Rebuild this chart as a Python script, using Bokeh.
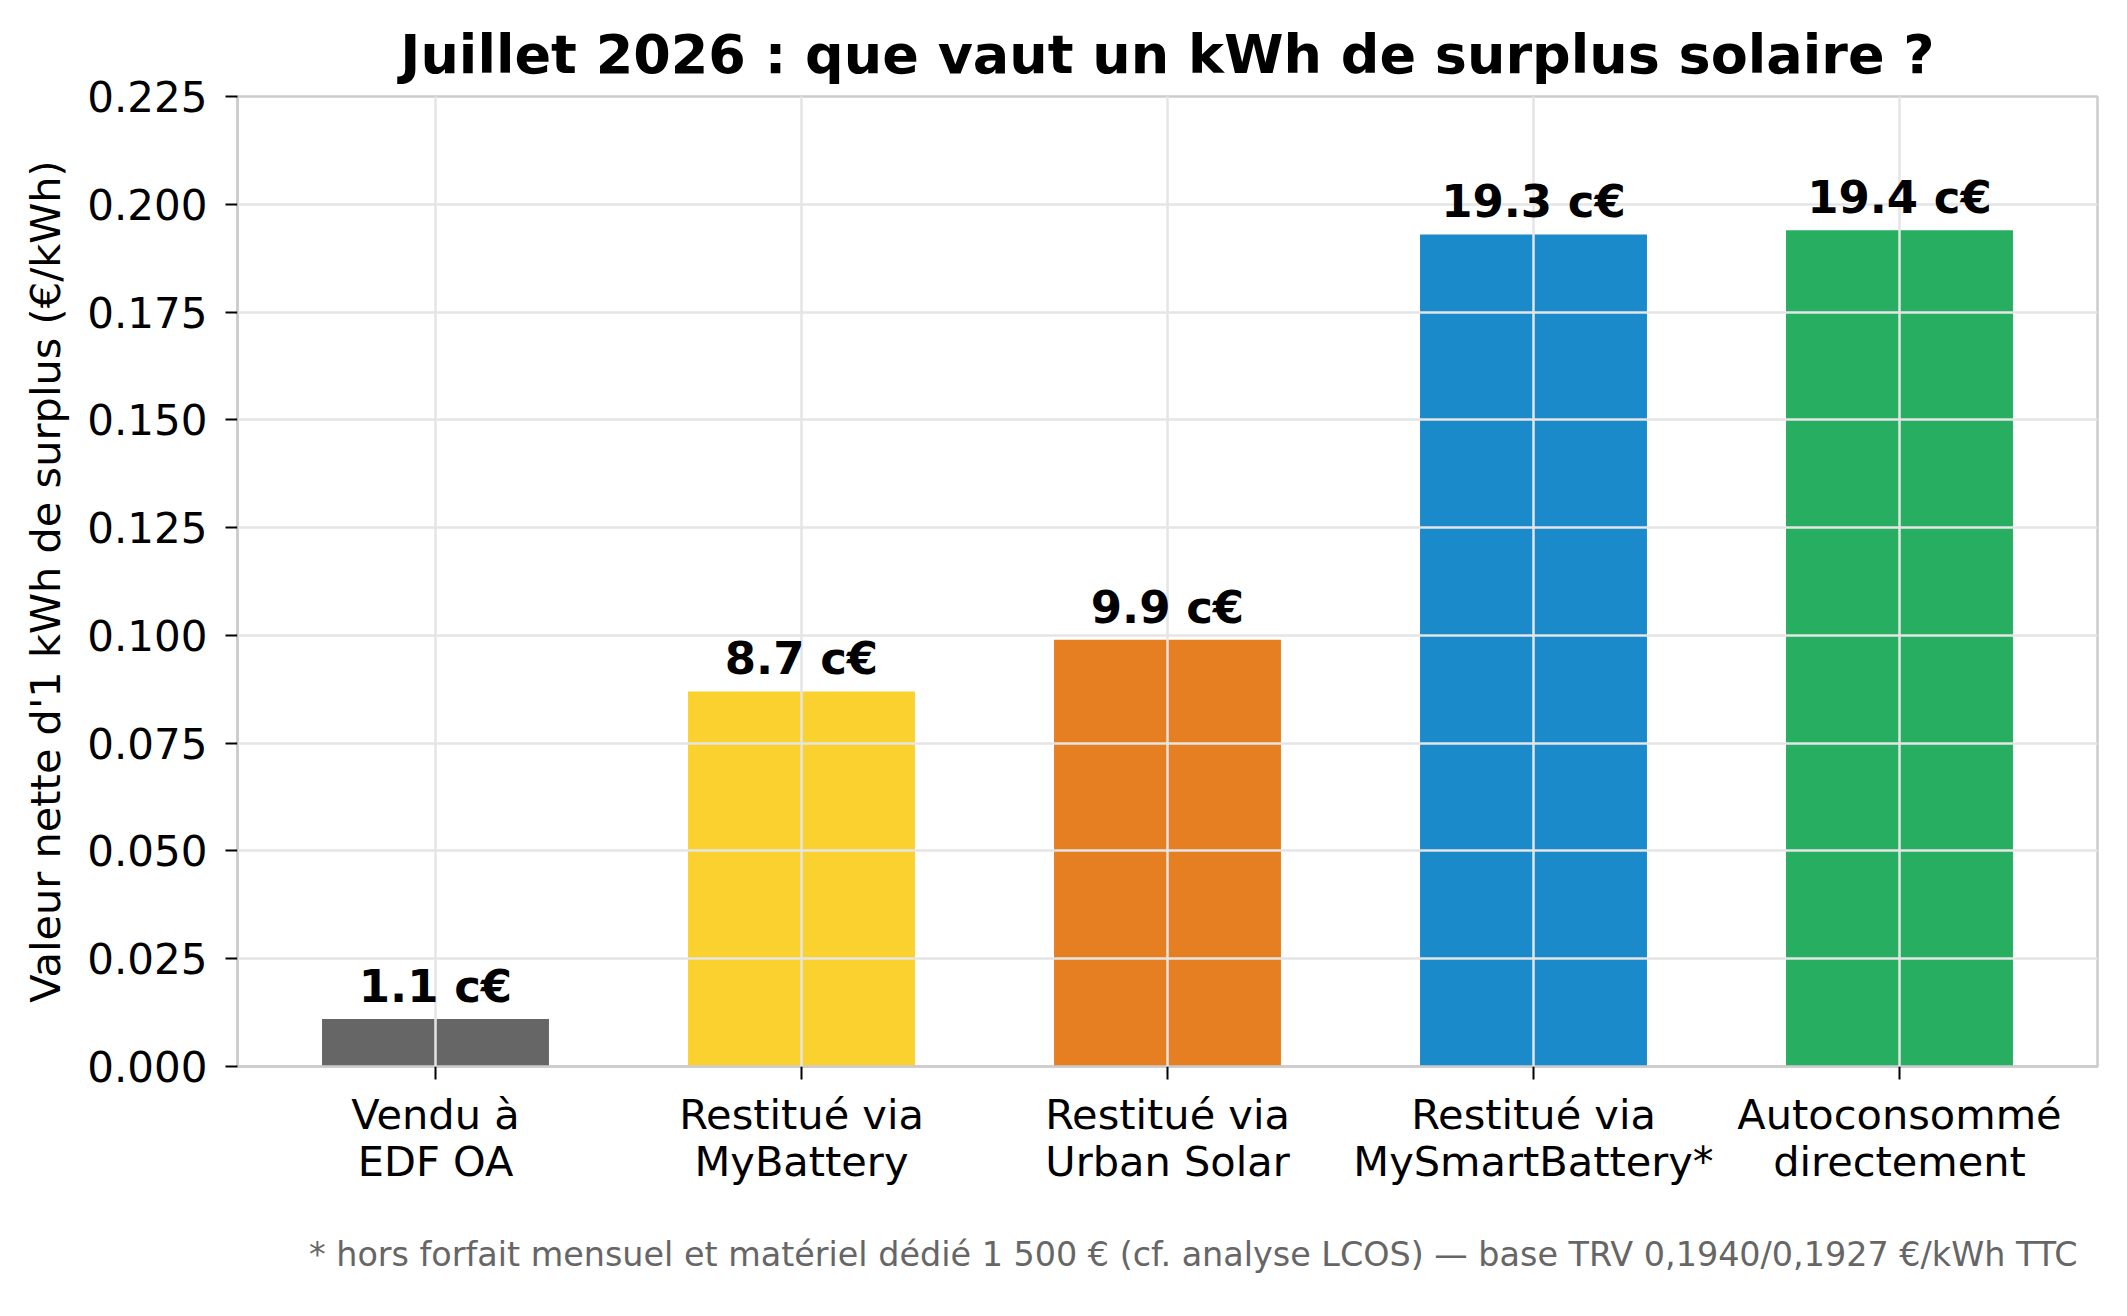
from bokeh.plotting import figure
from bokeh.models import ColumnDataSource, Range1d, FixedTicker, LabelSet, Title, NumeralTickFormatter
from bokeh.core.properties import value
from bokeh.embed import file_html
from bokeh.resources import INLINE

# ---- data ----
categories = ["Vendu à\nEDF OA", "Restitué via\nMyBattery", "Restitué via\nUrban Solar",
              "Restitué via\nMySmartBattery*", "Autoconsommé\ndirectement"]
values = [0.011, 0.087, 0.099, 0.193, 0.194]
value_labels = ["1.1 c€", "8.7 c€", "9.9 c€", "19.3 c€", "19.4 c€"]
colors = ["#666666", "#fad12e", "#e67e22", "#1b8acb", "#27ae60"]
y_ticks = [0.0, 0.025, 0.05, 0.075, 0.1, 0.125, 0.15, 0.175, 0.2, 0.225]
title_text = "Juillet 2026 : que vaut un kWh de surplus solaire ?"
y_label = "Valeur nette d'1 kWh de surplus (€/kWh)"
footnote = "* hors forfait mensuel et matériel dédié 1 500 € (cf. analyse LCOS) — base TRV 0,1940/0,1927 €/kWh TTC"

FONT = "DejaVu Sans"
xs = list(range(len(categories)))

src = ColumnDataSource(dict(x=xs, top=values, color=colors, label=value_labels))

p = figure(width=2127, height=1316, output_backend="svg", toolbar_location=None,
           x_range=Range1d(-0.541, len(categories) - 1 + 0.541), y_range=Range1d(0, 0.225),
           min_border_left=237, min_border_right=30, min_border_top=96, min_border_bottom=250)

p.vbar(x="x", top="top", bottom=0, width=0.62, color="color", line_color=None, source=src)

labels = LabelSet(x="x", y="top", text="label", source=src, text_align="center",
                  text_baseline="alphabetic", y_offset=17, text_font=value(FONT),
                  text_font_size="45px", text_font_style="bold", text_color="black")
p.add_layout(labels)

# title
p.title = Title(text=title_text, align="center", text_font=FONT, text_font_size="54px",
                text_font_style="bold", text_color="black", standoff=21)

# footnote
p.add_layout(Title(text=footnote, align="right", text_font=FONT, text_font_size="33.4px",
                   text_font_style="normal", text_color="#666666", standoff=86, offset=20), "below")

# axes
p.xaxis.ticker = FixedTicker(ticks=xs)
p.xaxis.major_label_overrides = {i: c for i, c in zip(xs, categories)}
p.yaxis.ticker = FixedTicker(ticks=y_ticks)
p.yaxis.formatter = NumeralTickFormatter(format="0.000")
p.yaxis.axis_label = y_label

for ax in (p.xaxis[0], p.yaxis[0]):
    ax.axis_line_color = "#cccccc"
    ax.axis_line_width = 2.5
    ax.major_tick_line_color = "black"
    ax.major_tick_line_width = 2
    ax.major_tick_in = 0
    ax.minor_tick_line_color = None
    ax.major_label_text_font = FONT
    ax.major_label_text_font_size = "42px"
    ax.major_label_text_color = "black"
    ax.axis_label_text_font = FONT
    ax.axis_label_text_font_size = "41.5px"
    ax.axis_label_text_font_style = "normal"
    ax.axis_label_text_color = "black"

p.xaxis.major_label_text_font_size = "41.5px"
p.xaxis.major_label_text_line_height = 0.97
p.xaxis.major_tick_out = 13
p.xaxis.major_label_standoff = 10
p.yaxis.major_tick_out = 12
p.yaxis.major_label_standoff = 18
p.yaxis.axis_label_standoff = 14

for g in (p.xgrid[0], p.ygrid[0]):
    g.grid_line_color = "#e5e5e5"
    g.grid_line_width = 2.5
    g.level = "annotation"
p.xgrid.ticker = FixedTicker(ticks=xs)
p.ygrid.ticker = FixedTicker(ticks=y_ticks)

p.outline_line_color = "#cccccc"
p.outline_line_width = 2.5
p.background_fill_color = "white"
p.border_fill_color = "white"

open("out.html", "w").write(file_html(p, INLINE))
